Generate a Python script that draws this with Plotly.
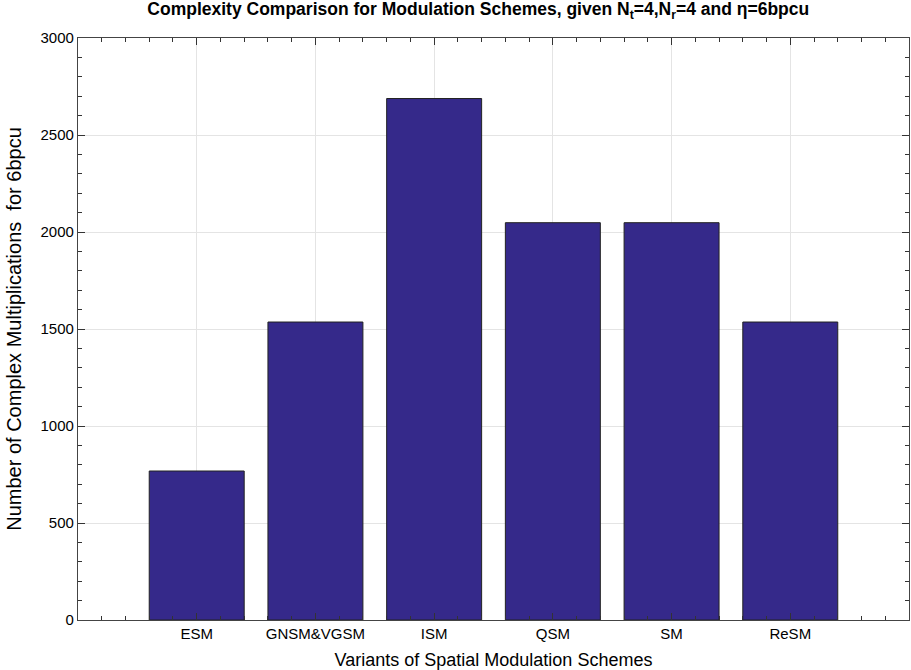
import plotly.graph_objects as go

categories = ["ESM", "GNSM&VGSM", "ISM", "QSM", "SM", "ReSM"]
positions = [1, 2, 3, 4, 5, 6]
multiplications = [768, 1536, 2688, 2048, 2048, 1536]

FONT = "Liberation Sans Narrow, Arial Narrow, Liberation Sans, Arial, sans-serif"

fig = go.Figure()
fig.add_trace(go.Bar(
    x=positions, y=multiplications, width=0.8,
    marker=dict(color="#35298a", line=dict(color="#222222", width=1)),
    hoverinfo="x+y",
))

axis_common = dict(
    showline=True, linecolor="#444444", linewidth=1.2, mirror="allticks",
    ticks="inside", tickcolor="#333333", tickwidth=1.2, showgrid=True, gridcolor="#e4e4e4",
    gridwidth=1, zeroline=False, automargin=False,
    tickfont=dict(family=FONT, size=15, color="#000000"),
)

fig.update_layout(
    width=911, height=670,
    margin=dict(l=78, r=2, t=38, b=50, autoexpand=False),
    plot_bgcolor="white", paper_bgcolor="white",
    showlegend=False,
    title=dict(
        text="<b>Complexity Comparison for Modulation Schemes, given N<sub>t</sub>=4,N<sub>r</sub>=4 and η=6bpcu</b>",
        x=0.525, xanchor="center", y=0.996, yanchor="top",
        font=dict(family=FONT, size=17.5, color="#000000"),
    ),
    xaxis=dict(
        range=[0, 7], tickvals=positions, ticktext=categories, ticklen=7,
        minor=dict(dtick=0.2, tick0=0, ticklen=4, ticks="inside", tickcolor="#333333",
                   tickwidth=1, showgrid=False),
        title=dict(text="Variants of Spatial Modulation Schemes", standoff=12,
                   font=dict(family=FONT, size=18, color="#000000")),
        **axis_common,
    ),
    yaxis=dict(
        range=[0, 3000], dtick=500, ticklen=7,
        minor=dict(dtick=100, tick0=0, ticklen=4, ticks="inside", tickcolor="#333333",
                   tickwidth=1, showgrid=False),
        title=dict(text="Number of Complex Multiplications  for 6bpcu", standoff=13,
                   font=dict(family=FONT, size=20, color="#000000")),
        **axis_common,
    ),
)

fig.write_html("out.html", config={"displayModeBar": False},
               post_script="document.body.style.margin='0';document.body.style.overflow='hidden';")
